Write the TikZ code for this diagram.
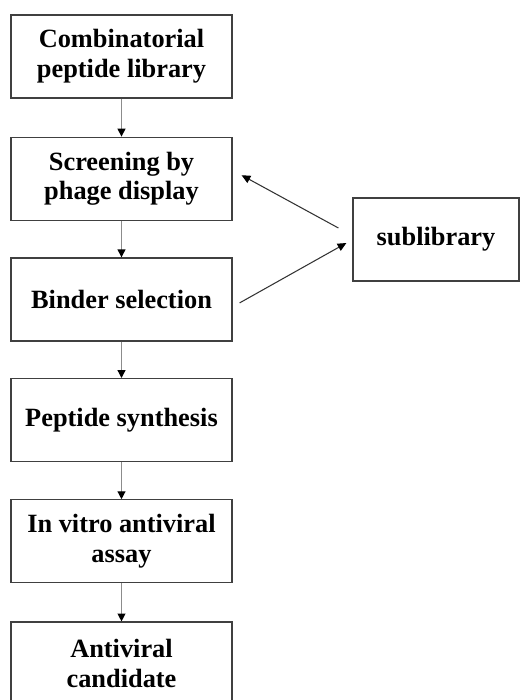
\documentclass[tikz,border=0pt]{standalone}
\usepackage{fontspec}
\setmainfont{Liberation Serif}
\usetikzlibrary{positioning,arrows.meta}
\tikzset{
  stage/.style={draw=black!75, line width=0.7pt, minimum width=4.42cm, minimum height=1.66cm,
    align=center, inner sep=2pt, font=\fontsize{15}{17}\selectfont\bfseries},
  flow/.style={draw=black!45, line width=0.7pt, -{Triangle[black,length=4.5pt,width=4.5pt]}},
  loop/.style={draw=black!80, line width=0.6pt, -{Triangle[black,length=5pt,width=4.5pt]}}
}
\begin{document}
\begin{tikzpicture}[x=0.02cm,y=-0.02cm]
  \useasboundingbox (0,0) rectangle (520,700);
  \clip (0,0) rectangle (520,700);
  \node[stage] (lib) at (121.5,56.5) {Combinatorial\\peptide library};
  \node[stage, below=0.76cm of lib] (screen) {Screening by\\phage display};
  \node[stage, below=0.73cm of screen] (binder) {Binder selection};
  \node[stage, below=0.73cm of binder] (synth) {Peptide synthesis};
  \node[stage, below=0.74cm of synth] (assay) {In vitro antiviral\\assay};
  \node[stage, below=0.76cm of assay] (cand) {Antiviral\\candidate};
  \node[stage, minimum width=3.32cm] (sub) at (436,239.5) {sublibrary};
  % feedback loop
  \coordinate (subout) at ([shift={(-0.28cm,0.23cm)}]sub.west);
  \coordinate (subin) at ([shift={(-0.12cm,-0.07cm)}]sub.west);
  \coordinate (scrin) at ([shift={(0.18cm,0.07cm)}]screen.east);
  \coordinate (bindout) at ([shift={(0.14cm,-0.07cm)}]binder.east);
  \draw[flow] (lib) -- (screen);
  \draw[flow] (screen) -- (binder);
  \draw[flow] (binder) -- (synth);
  \draw[flow] (synth) -- (assay);
  \draw[flow] (assay) -- (cand);
  \draw[loop] (subout) -- (scrin);
  \draw[loop] (bindout) -- (subin);
\end{tikzpicture}
\end{document}
